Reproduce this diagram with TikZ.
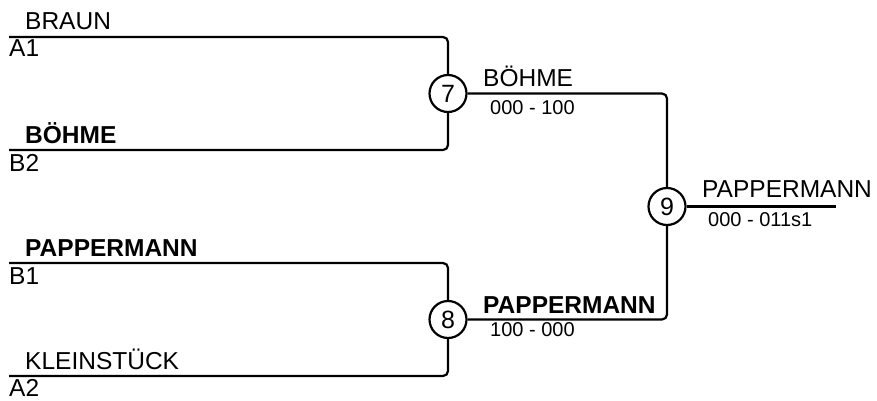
\documentclass[tikz,border=0pt]{standalone}
\usepackage{fontspec}
\setmainfont{Liberation Sans}
\usetikzlibrary{positioning}

\tikzset{
  bracket/.style={line width=2.2pt, rounded corners=5pt},
  match/.style={circle, draw, line width=2.2pt, minimum size=37pt, inner sep=0pt, font=\fontsize{25}{29}\selectfont},
  player/.style={anchor=base west, inner sep=0pt, font=\fontsize{24.5}{28}\selectfont},
  winner/.style={player, font=\fontsize{24.5}{28}\selectfont\bfseries},
  seed/.style={anchor=base west, inner sep=0pt, font=\fontsize{24.5}{28}\selectfont},
  result/.style={anchor=base west, inner sep=0pt, font=\fontsize{20}{24}\selectfont},
}

\begin{document}
\begin{tikzpicture}[x=1pt, y=-1pt]
  \useasboundingbox (0,0) rectangle (877,401);

  % matches
  \node[match] (m7) at (448,93.5) {7};
  \node[match] (m8) at (448,319.5) {8};
  \node[match] (m9) at (667,206.5) {9};

  % free ends of the bracket
  \coordinate (a1) at (9,37);
  \coordinate (b2) at (9,150);
  \coordinate (b1) at (9,263);
  \coordinate (a2) at (9,376);
  \coordinate (fin) at (836,206.5);

  \draw[bracket] (a1) -| (m7);
  \draw[bracket] (b2) -| (m7);
  \draw[bracket] (b1) -| (m8);
  \draw[bracket] (a2) -| (m8);
  \draw[bracket] (m7) -| (m9);
  \draw[bracket] (m8) -| (m9);
  \draw[bracket] (m9) -- (fin);

  % players and seeds
  \node[player] (braun) at (25,30) {BRAUN};
  \node[seed] (sa1) at (9,57) {A1};
  \node[winner] (boehme) at (25,143) {BÖHME};
  \node[seed] (sb2) at (9,171) {B2};
  \node[winner] (papp) at (25,256) {PAPPERMANN};
  \node[seed] (sb1) at (9,284) {B1};
  \node[player] (klein) at (25,369) {KLEINSTÜCK};
  \node[seed] (sa2) at (9,396.5) {A2};

  % winners and results
  \node[player] (w7) at (483,87) {BÖHME};
  \node[result] (r7) at (490,114) {000 - 100};
  \node[winner] (w8) at (483,313) {PAPPERMANN};
  \node[result] (r8) at (490,336) {100 - 000};
  \node[player] (w9) at (702,197) {PAPPERMANN};
  \node[result] (r9) at (708,226) {000 - 011s1};
\end{tikzpicture}
\end{document}
